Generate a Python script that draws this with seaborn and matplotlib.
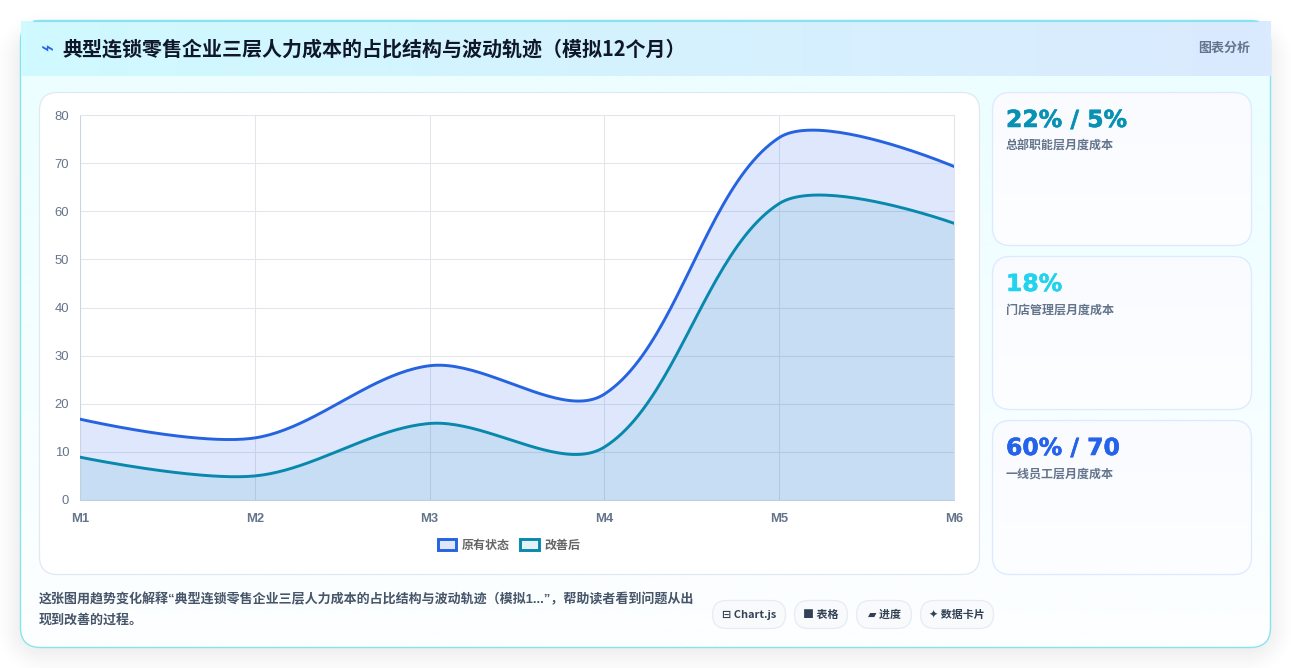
import numpy as np
import matplotlib
matplotlib.use("Agg")
import matplotlib.pyplot as plt
import matplotlib.patheffects as pe
from matplotlib.patches import FancyBboxPatch, Patch
import seaborn as sns

# Chart data
months = ["M1", "M2", "M3", "M4", "M5", "M6"]
original = [16.8, 12.9, 27.9, 22, 75.3, 69.3]
improved = [8.9, 5, 15.9, 11, 61.6, 57.5]
series_names = ["原有状态", "改善后"]

title_text = "典型连锁零售企业三层人力成本的占比结构与波动轨迹（模拟12个月）"
caption_lines = [
    "这张图用趋势变化解释“典型连锁零售企业三层人力成本的占比结构与波动轨迹（模拟1...”，帮助读者看到问题从出",
    "现到改善的过程。",
]
stat_values = ["22% / 5%", "18%", "60% / 70"]
stat_labels = ["总部职能层月度成本", "门店管理层月度成本", "一线员工层月度成本"]
stat_colors = ["#0891b2", "#22d3ee", "#2563eb"]
tag_labels = ["⊟ Chart.js", "■ 表格", "▰ 进度", "✦ 数据卡片"]

W, H = 1291, 668
PLOT_L, PLOT_R, PLOT_T, PLOT_B = 80, 954, 115, 500
Y_MAX = 80
CJK = ["Noto Sans CJK SC", "DejaVu Sans"]
LATIN_FIRST = ["Liberation Sans", "Noto Sans CJK SC"]


def px(size):
    """Font size in points for a pixel size at 100 dpi."""
    return size * 0.72


def spline_curve(values, tension=0.33, samples=48):
    """Cubic spline through the points, with control points set in screen proportions."""
    sx = (PLOT_R - PLOT_L) / (len(values) - 1)
    sy = (PLOT_B - PLOT_T) / Y_MAX
    pts = np.column_stack([np.arange(len(values)) * sx, np.asarray(values, float) * sy])
    n = len(pts)
    before, after = pts.copy(), pts.copy()
    for i in range(1, n - 1):
        d0 = np.hypot(*(pts[i] - pts[i - 1]))
        d1 = np.hypot(*(pts[i + 1] - pts[i]))
        s0 = d0 / (d0 + d1)
        span = pts[i + 1] - pts[i - 1]
        before[i] = pts[i] - tension * s0 * span
        after[i] = pts[i] + tension * (1 - s0) * span
    out = []
    t = np.linspace(0, 1, samples)[:, None]
    for i in range(n - 1):
        seg = ((1 - t) ** 3 * pts[i] + 3 * (1 - t) ** 2 * t * after[i]
               + 3 * (1 - t) * t ** 2 * before[i + 1] + t ** 3 * pts[i + 1])
        out.append(seg)
    out = np.vstack(out)
    return out[:, 0] / sx, out[:, 1] / sy


def rounded(x0, y0, x1, y1, r, **kw):
    return FancyBboxPatch((x0, y0), x1 - x0, y1 - y0,
                          boxstyle=f"round,pad=0,rounding_size={r}", **kw)


def rounded_sdf(xx, yy, x0, y0, x1, y1, r):
    cx, cy = (x0 + x1) / 2, (y0 + y1) / 2
    qx = np.abs(xx - cx) - (x1 - x0) / 2 + r
    qy = np.abs(yy - cy) - (y1 - y0) / 2 + r
    return np.hypot(np.maximum(qx, 0), np.maximum(qy, 0)) + np.minimum(np.maximum(qx, qy), 0) - r


def hex_rgb(c):
    return np.array(matplotlib.colors.to_rgb(c))


sns.set_theme(style="white")
plt.rcParams["font.family"] = CJK

fig = plt.figure(figsize=(W / 100, H / 100), dpi=100, facecolor="white")

# Page layer in pixel coordinates
bg = fig.add_axes([0, 0, 1, 1], zorder=0)
bg.set_xlim(0, W)
bg.set_ylim(H, 0)
bg.axis("off")

# Soft card shadow
xx, yy = np.meshgrid(np.arange(W) + 0.5, np.arange(H) + 0.5)
dist = rounded_sdf(xx, yy, 24, 40, 1266, 647, 20)
ramp = np.clip(1 - (dist + 14) / 48, 0, 1)
shadow = np.zeros((H, W, 4))
shadow[..., 3] = 0.085 * ramp ** 2 * (3 - 2 * ramp)
bg.imshow(shadow, extent=(0, W, H, 0), aspect="auto", zorder=1, interpolation="bilinear")

# Card body with a vertical tint
card_edge = rounded(20.5, 20.5, 1270.5, 647.5, 20, fc="none", ec="#86e3ef", lw=1.0, zorder=4)
t = np.linspace(0, 1, 256)[:, None, None]
body = (1 - t) * hex_rgb("#ecfeff") + t * hex_rgb("#fdfeff")
body_im = bg.imshow(body, extent=(20, 1271, 648, 76), aspect="auto", zorder=2)
clip = rounded(20, 20, 1271, 648, 20, fc="none", ec="none", transform=bg.transData)
bg.add_patch(clip)
body_im.set_clip_path(clip)
bg.add_patch(card_edge)

# Header band
t = np.linspace(0, 1, 256)[None, :, None]
head = (1 - t) * hex_rgb("#cffafe") + t * hex_rgb("#dbeafe")
bg.imshow(head, extent=(21, 1271, 76, 21), aspect="auto", zorder=5)
bg.plot([33, 1258], [20.5, 20.5], color="#86e3ef", lw=0.8, zorder=6)
bg.text(47, 50, "⌁", fontsize=px(22), color="#2563eb", family="DejaVu Sans",
        ha="center", va="center", zorder=7)
bg.text(62, 49, title_text, fontsize=px(20), fontweight="bold", color="#0f172a",
        ha="left", va="center", zorder=7)
bg.text(1250, 48, "图表分析", fontsize=px(13), fontweight="bold", color="#64748b",
        ha="right", va="center", zorder=7)

# Chart panel
bg.add_patch(rounded(39.5, 92.5, 979.5, 574.5, 18, fc="white", ec="#e2e8f0", lw=0.9, zorder=6))

# Stat cards
card_spans = [(92.5, 245.5), (256.5, 409.5), (420.5, 574.5)]
for (top, bottom), value, label, color in zip(card_spans, stat_values, stat_labels, stat_colors):
    t = np.linspace(0, 1, 128)[:, None, None]
    fill = (1 - t) * hex_rgb("#f9fbff") + t * hex_rgb("#fdfeff")
    im = bg.imshow(fill, extent=(992, 1252, bottom, top), aspect="auto", zorder=6)
    c = rounded(992.5, top, 1251.5, bottom, 18, fc="none", ec="#dbeafe", lw=0.9, zorder=7)
    bg.add_patch(c)
    im.set_clip_path(c)
    bg.text(1006, top + 28, value, fontsize=px(23.5), fontweight="bold", color=color,
            family="DejaVu Sans", ha="left", va="center", zorder=8,
            path_effects=[pe.withStroke(linewidth=0.4, foreground=color)])
    bg.text(1006, top + 54, label, fontsize=px(12), fontweight="bold", color="#64748b",
            ha="left", va="center", zorder=8)

# Caption
for y, line in zip((600, 620), caption_lines):
    bg.text(39, y, line, fontsize=px(13), fontweight="bold", color="#475569",
            family=LATIN_FIRST, ha="left", va="center", zorder=8)

# Tag pills
pill_spans = [(712.5, 785.5), (794.5, 847.5), (856.5, 911.5), (920.5, 993.5)]
for (x0, x1), tag in zip(pill_spans, tag_labels):
    bg.add_patch(rounded(x0, 600.5, x1, 628.5, 14, fc="#f8fafc", ec="#e7ecf2", lw=0.9, zorder=7))
    bg.text((x0 + x1) / 2, 615, tag, fontsize=px(11), fontweight="bold", color="#334155",
            ha="center", va="center", zorder=8)

bg.set_xlim(0, W)
bg.set_ylim(H, 0)

# Line chart
ax = fig.add_axes([PLOT_L / W, 1 - PLOT_B / H, (PLOT_R - PLOT_L) / W, (PLOT_B - PLOT_T) / H], zorder=2)
ax.patch.set_alpha(0)
line_colors = ["#2563e0", "#0888ad"]
fill_colors = [(37 / 255, 99 / 255, 235 / 255, 0.15), (8 / 255, 145 / 255, 178 / 255, 0.11)]
for values, lc, fc, order in zip((original, improved), line_colors, fill_colors, (4, 5)):
    cx, cy = spline_curve(values)
    ax.fill_between(cx, 0, cy, color=fc, lw=0, zorder=order - 2)
    sns.lineplot(x=cx, y=cy, sort=False, estimator=None, color=lc, linewidth=2.1,
                 ax=ax, zorder=order, legend=False)

ax.set_xlim(0, len(months) - 1)
ax.set_ylim(0, Y_MAX)
ax.set_xticks(range(len(months)), months)
ax.set_yticks(range(0, Y_MAX + 1, 10))
ax.grid(True, color="#e2e6eb", lw=0.75)
ax.set_axisbelow(True)
ax.tick_params(axis="y", length=3.6, width=0.75, color="#e2e6eb", pad=4.2)
ax.tick_params(axis="x", length=3.6, width=0.75, color="#e2e6eb", pad=5.5)
for lab in ax.get_yticklabels():
    lab.set(family="Liberation Sans", fontsize=px(13), color="#64748b")
for lab in ax.get_xticklabels():
    lab.set(family="Liberation Sans", fontsize=px(13), color="#64748b", fontweight="bold")
for name, spine in ax.spines.items():
    spine.set_color("#cbd5e1" if name in ("left", "bottom") else "#e2e6eb")
    spine.set_linewidth(0.75)
ax.set_xlabel("")
ax.set_ylabel("")

handles = [Patch(facecolor=f, edgecolor=c, linewidth=2.1, label=n)
           for f, c, n in zip(fill_colors, line_colors, series_names)]
ax.legend(handles=handles, loc="center", bbox_to_anchor=(509 / W, 1 - 545 / H),
          bbox_transform=fig.transFigure, ncol=2, frameon=False,
          prop={"family": CJK, "size": px(12), "weight": "bold"}, labelcolor="#666666",
          handlelength=1.55, handleheight=1.05, handletextpad=0.48, columnspacing=0.85,
          borderpad=0, borderaxespad=0)

fig.savefig("out.png", dpi=100, facecolor="white")
